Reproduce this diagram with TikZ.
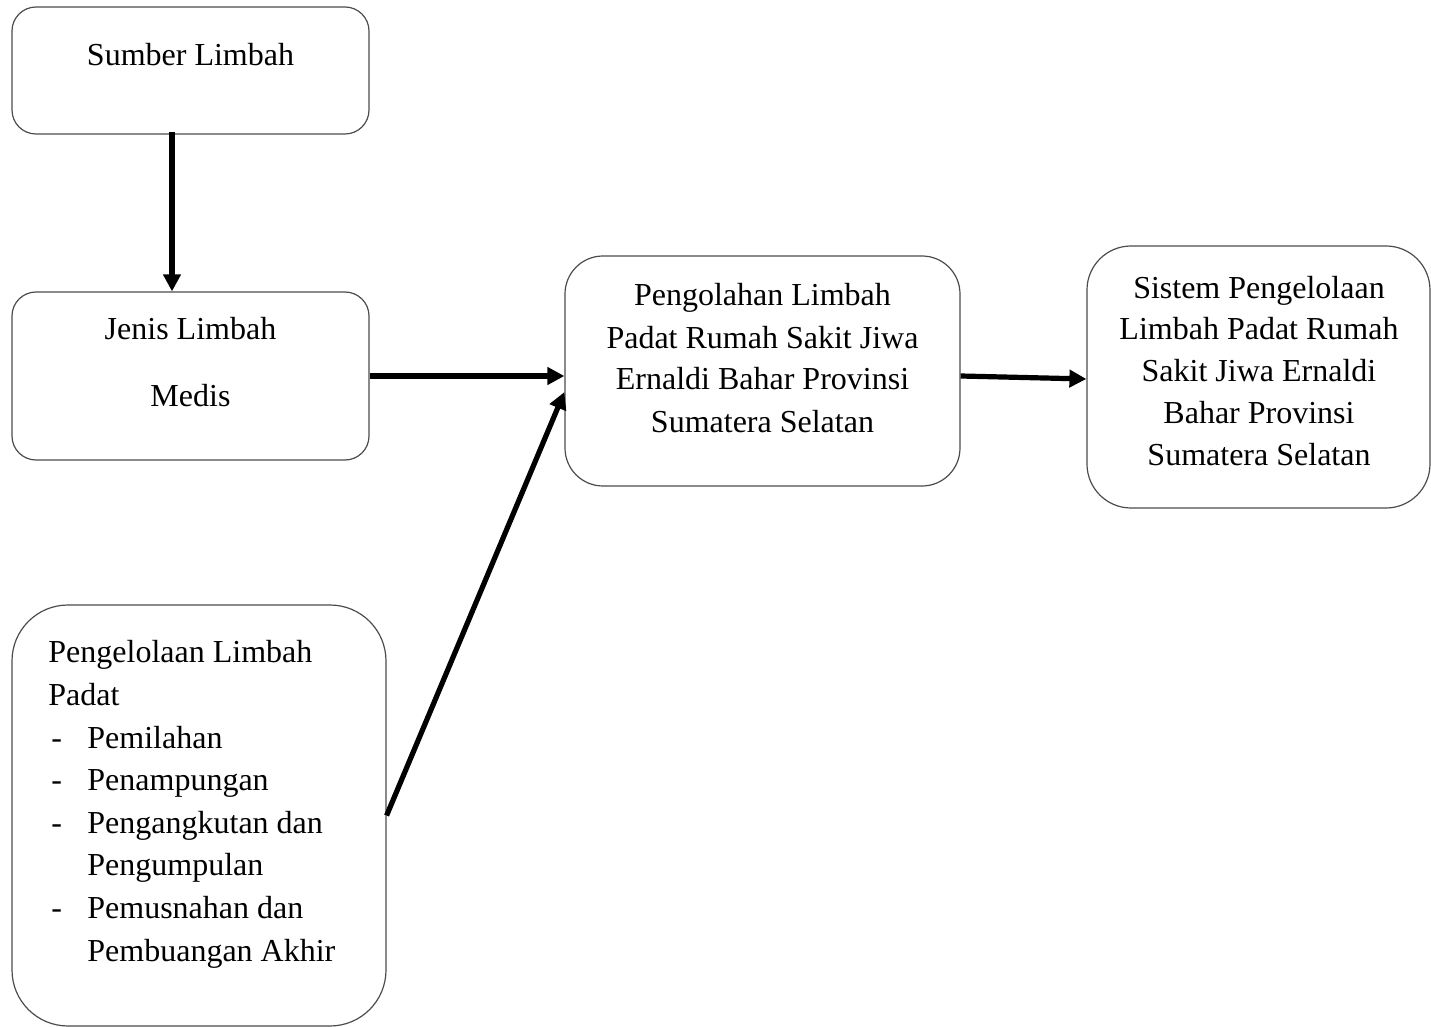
\documentclass[tikz,border=0pt]{standalone}
\usepackage{fontspec}
\setmainfont{Liberation Serif}
\usepackage{tikz}
\usetikzlibrary{arrows.meta}

\newcommand{\butir}{\hspace*{1.5pt}\makebox[18pt][l]{-}}
\newcommand{\lanjut}{\hspace*{19.5pt}}

\tikzset{
  kotak/.style={draw=black!70, line width=0.6pt, rounded corners=#1, inner sep=0pt},
  kotak/.default=12pt,
  teks/.style={inner sep=0pt, anchor=base, align=center},
  panah/.style={line width=2.6pt, -{Triangle[length=8.5pt,width=8.5pt]}}
}

\begin{document}
\begin{tikzpicture}[x=0.5pt, y=-0.5pt, font=\fontsize{16}{21}\selectfont]
    \useasboundingbox (0,0) rectangle (1431,1027);
    % kotak
    \node (sumber) [kotak, minimum width=178.5pt, minimum height=63.5pt] at (190.5,70.5) {};
    \node (jenis) [kotak, minimum width=178.5pt, minimum height=84pt] at (190.5,376) {};
    \node (padat) [kotak=28pt, minimum width=187pt, minimum height=210.5pt] at (199,815.5) {};
    \node (olah) [kotak=19pt, minimum width=197.5pt, minimum height=115pt] at (762.5,371) {};
    \node (sistem) [kotak=22pt, minimum width=171.5pt, minimum height=131pt] at (1258.5,377) {};
    % teks (base = baris terakhir)
    \node (sumbertxt) [teks] at (190.5,66) {Sumber Limbah};
    \node (jenistxt) [teks] at (190.5,407) {Jenis Limbah\\[12.5pt]Medis};
    \node (olahtxt) [teks] at (762.5,432) {Pengolahan Limbah\\Padat Rumah Sakit Jiwa\\Ernaldi Bahar Provinsi\\Sumatera Selatan};
    \node (sistemtxt) [teks] at (1259,466) {Sistem Pengelolaan\\Limbah Padat Rumah\\Sakit Jiwa Ernaldi\\Bahar Provinsi\\Sumatera Selatan};
    \node (padattxt) [teks, anchor=base west, align=left, font=\fontsize{16}{21.3}\selectfont] at (48,961)
      {Pengelolaan Limbah\\Padat\\\butir Pemilahan\\\butir Penampungan\\\butir Pengangkutan dan\\\lanjut Pengumpulan\\\butir Pemusnahan dan\\\lanjut Pembuangan Akhir};
    % panah
    \coordinate (turun) at (172,0);
    \draw[panah] ([yshift=1.5pt]sumber.south -| turun) -- (jenis.north -| turun);
    \draw[panah] (jenis.east) -- (jenis.east -| olah.west);
    \draw[panah] (padat.east) -- ([yshift=-10.5pt]olah.west);
    \draw[panah] ([yshift=-2.5pt]olah.east) -- ([yshift=-1pt]sistem.west);
\end{tikzpicture}
\end{document}
